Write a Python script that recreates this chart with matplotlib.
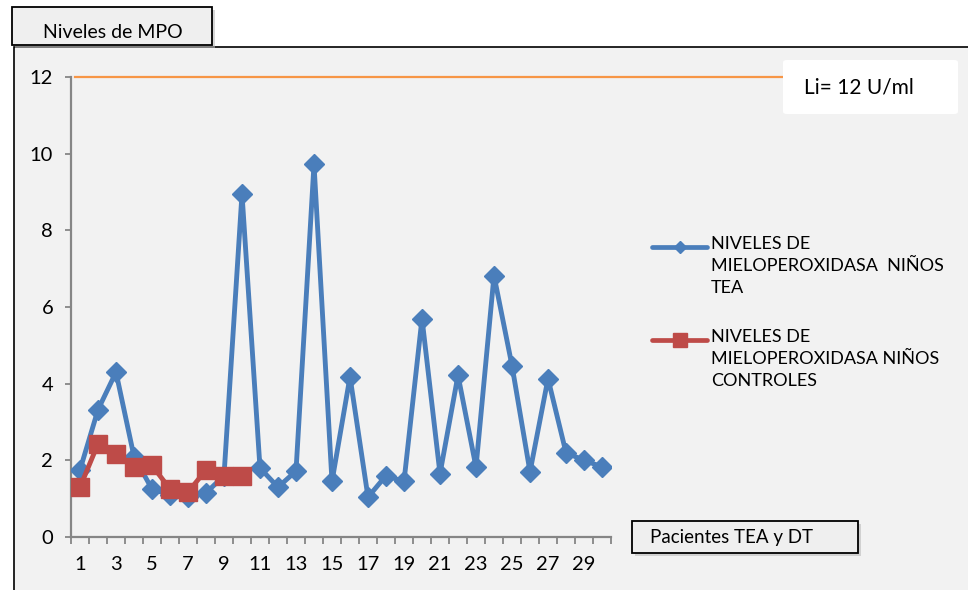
import matplotlib
matplotlib.use("Agg")
import matplotlib.pyplot as plt
from matplotlib.patches import Rectangle, FancyBboxPatch
from matplotlib.lines import Line2D

plt.rcParams['font.family'] = ['Lato', 'DejaVu Sans']

# data
pacientes = list(range(1, 31))
tea = [1.75, 3.32, 4.3, 2.1, 1.25, 1.1, 1.05, 1.15, 1.6, 8.95,
       1.8, 1.3, 1.72, 9.72, 1.45, 4.18, 1.04, 1.6, 1.45, 5.7,
       1.65, 4.22, 1.82, 6.82, 4.47, 1.7, 4.13, 2.2, 2.0, 1.83]
controles = [1.3, 2.43, 2.17, 1.83, 1.87, 1.25, 1.17, 1.75, 1.6, 1.6]
limite = 12
y_ticks = [0, 2, 4, 6, 8, 10, 12]
x_labels = [str(i) for i in range(1, 30, 2)]
leyenda = ['NIVELES DE\nMIELOPEROXIDASA  NIÑOS\nTEA',
           'NIVELES DE\nMIELOPEROXIDASA NIÑOS\nCONTROLES']

azul = '#4a7ebb'
rojo = '#be4b48'
naranja = '#f79646'
gris = '#868686'

W, H = 968, 590
fig = plt.figure(figsize=(W / 100, H / 100), dpi=100, facecolor='white')

def fx(px):
    return px / W

def fy(py):
    return 1 - py / H

# chart area frame
fig.patches.append(Rectangle((fx(14), -0.05), 1.2, fy(47) + 0.05, transform=fig.transFigure,
                             facecolor='#f2f2f2', edgecolor='black', lw=1.2, zorder=-5))

ax = fig.add_axes([fx(71), fy(537), fx(611) - fx(71), fy(77) - fy(537)])
ax.set_facecolor('none')
ax.set_zorder(1)

ax.plot(pacientes, tea, color=azul, lw=3.5, marker='D', ms=10, zorder=3)
ax.plot(pacientes[:len(controles)], controles, color=rojo, lw=3.5, marker='s', ms=13.5, zorder=4)
ax.axhline(limite, xmin=(75 - 71) / 540, xmax=(782 - 71) / 540, color=naranja, lw=1.6,
           clip_on=False, zorder=2)

ax.set_xlim(0.5, 30.5)
ax.set_ylim(0, 12)
ax.set_yticks(y_ticks)
ax.set_xticks(list(range(1, 30, 2)))
ax.set_xticklabels(x_labels)
ax.set_xticks([i + 0.5 for i in range(0, 31)], minor=True)
for s in ['top', 'right']:
    ax.spines[s].set_visible(False)
for s in ['left', 'bottom']:
    ax.spines[s].set_color(gris)
    ax.spines[s].set_linewidth(1.6)
ax.tick_params(axis='y', direction='out', length=4.3, width=1.3, color=gris, pad=8.5, labelsize=14.5)
ax.tick_params(axis='x', which='major', length=0, pad=14, labelsize=14.5)
ax.tick_params(axis='x', which='minor', direction='out', length=5, width=1.3, color=gris)

# legend, drawn by hand so the handle sits on the first text line
entradas = [(azul, 'D', 6, 247), (rojo, 's', 9.5, 340)]
for (color, marca, tam, ypx), texto in zip(entradas, leyenda):
    fig.add_artist(Line2D([fx(652), fx(707)], [fy(ypx), fy(ypx)], transform=fig.transFigure,
                          color=color, lw=3.4, solid_capstyle='round'))
    fig.add_artist(Line2D([fx(679.5)], [fy(ypx)], transform=fig.transFigure,
                          color=color, marker=marca, ms=tam, lw=0))
    fig.text(fx(711), fy(ypx - 11), texto, fontsize=13, va='top', ha='left', linespacing=1.47)

# limit label
fig.patches.append(FancyBboxPatch((fx(783), fy(114)), fx(958) - fx(783), fy(60) - fy(114),
                                  boxstyle='round,pad=0,rounding_size=0.004',
                                  transform=fig.transFigure, facecolor='white',
                                  edgecolor='none', zorder=2))
fig.text(fx(804), fy(88), 'Li= 12 U/ml', fontsize=15, va='center', ha='left', zorder=3)

# title box and x-axis label box
def caja(x0, y0, x1, y1, texto, tx, ty, size):
    fig.patches.append(Rectangle((fx(x0 + 3), fy(y1 + 3)), fx(x1) - fx(x0), fy(y0) - fy(y1),
                                 transform=fig.transFigure, facecolor='#bbbbbb',
                                 edgecolor='none', alpha=0.6, zorder=4))
    fig.patches.append(Rectangle((fx(x0), fy(y1)), fx(x1) - fx(x0), fy(y0) - fy(y1),
                                 transform=fig.transFigure, facecolor='#efefef',
                                 edgecolor='black', lw=1.3, zorder=5))
    fig.text(fx(tx), fy(ty), texto, fontsize=size, va='center', ha='left', zorder=6)

caja(12, 7, 212, 45, 'Niveles de MPO', 43, 32, 14)
caja(632, 521, 858, 553, 'Pacientes TEA y DT', 650, 538, 13.5)

fig.savefig('out.png', dpi=100, facecolor=fig.get_facecolor())
